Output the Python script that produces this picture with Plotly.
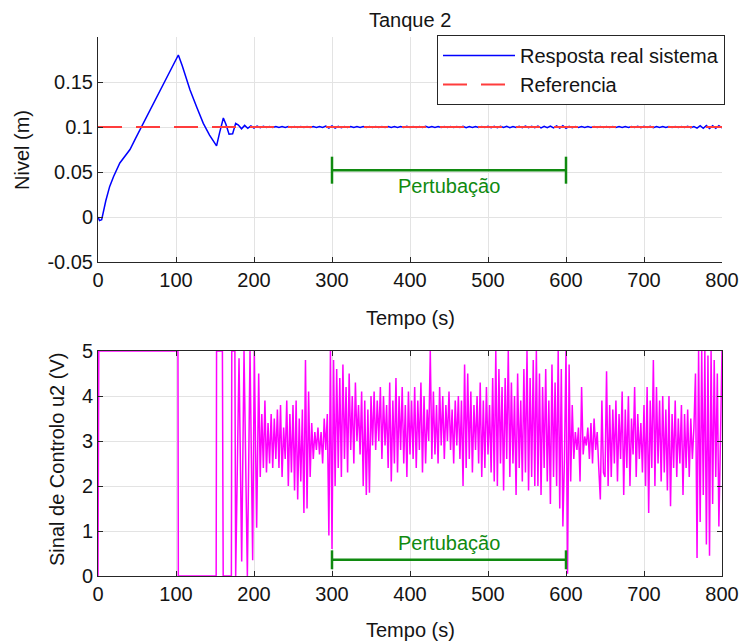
import numpy as np
import plotly.graph_objects as go

# ---------------- data ----------------
# Top plot: tank level response (early transient, explicit times)
t_lvl_early = [0, 2, 4.7, 7, 10, 15, 20, 28, 35, 41, 48, 54, 62, 70, 78, 86, 94, 103,
               108, 118, 127, 135, 143, 152, 156, 160.7, 164, 168, 172.6, 176.5]
lvl_early = [0.0, -0.004, -0.003, 0.008, 0.018, 0.034, 0.045, 0.060, 0.068, 0.075,
             0.087, 0.097, 0.110, 0.124, 0.137, 0.151, 0.165, 0.180,
             0.168, 0.141, 0.121, 0.104, 0.091, 0.079, 0.094, 0.110, 0.103, 0.092, 0.0925, 0.104]
# Level after settling, sampled every 4 s from 180 s to 800 s
lvl_late = [
    0.1022, 0.0980, 0.1018, 0.0985, 0.1013, 0.0989, 0.1009, 0.0992, 0.1007, 0.0994,
    0.1005, 0.0996, 0.1006, 0.0995, 0.1004, 0.0996, 0.1005, 0.0995, 0.1006, 0.0996,
    0.1005, 0.0995, 0.1006, 0.0995, 0.1004, 0.0996, 0.1005, 0.0995, 0.1010, 0.0989,
    0.1012, 0.0988, 0.1008, 0.0993, 0.1005, 0.0996, 0.1006, 0.0995, 0.1004, 0.0996,
    0.1005, 0.0995, 0.1006, 0.0996, 0.1004, 0.0995, 0.1005, 0.0996, 0.1006, 0.0995,
    0.1004, 0.0996, 0.1005, 0.0995, 0.1007, 0.0994, 0.1005, 0.0996, 0.1004, 0.0996,
    0.1007, 0.0994, 0.1005, 0.0996, 0.1006, 0.0995, 0.1004, 0.0996, 0.1006, 0.0994,
    0.1006, 0.0994, 0.1007, 0.0993, 0.1005, 0.0995, 0.1006, 0.0995, 0.1005, 0.0994,
    0.1007, 0.0993, 0.1008, 0.0992, 0.1007, 0.0994, 0.1008, 0.0993, 0.1006, 0.0994,
    0.1007, 0.0993, 0.1009, 0.0992, 0.1008, 0.0993, 0.1009, 0.0991, 0.1008, 0.0992,
    0.1010, 0.0990, 0.1012, 0.0988, 0.1014, 0.0986, 0.1008, 0.0993, 0.1005, 0.0996,
    0.1004, 0.0996, 0.1004, 0.0996, 0.1005, 0.0995, 0.1004, 0.0996, 0.1006, 0.0995,
    0.1005, 0.0996, 0.1004, 0.0995, 0.1006, 0.0994, 0.1005, 0.0996, 0.1007, 0.0993,
    0.1007, 0.0994, 0.1008, 0.0993, 0.1005, 0.0995, 0.1006, 0.0994, 0.1005, 0.0996,
    0.1005, 0.0995, 0.1006, 0.0994, 0.1007, 0.0993, 0.1006, 0.0988, 0.1014, 0.0985,
    0.1016, 0.0984, 0.1015, 0.0986, 0.1014, 0.0989,
]
t_lvl_late = list(np.arange(180, 801, 4))

t_ref = [0, 800]
ref = [0.1, 0.1]

# Bottom plot: control signal u2 (saturated early part, explicit times)
t_u_early = [0, 1, 102.5, 103, 151.5, 152, 159.5, 160.5, 171, 171.5, 175.5, 176.5,
             180.8, 184.2, 187.2, 191.5, 194.9, 198.3, 200.4, 203.4]
u_early = [0, 5, 5, 0, 0, 5, 5, 0, 0, 5, 5, 0, 4.84, 0.32, 5, 0, 5, 0.35, 5, 1.07]
# u2 sampled every 2 s from 206 s to 800 s
u_late = [
    4.5, 2.2, 3.6, 2.4, 3.9, 2.3, 3.4, 2.5, 3.6, 2.4,
    3.5, 2.6, 3.7, 2.4, 3.8, 2.2, 3.3, 2.6, 3.9, 2.0,
    3.6, 2.3, 3.8, 1.9, 3.9, 1.7, 3.5, 2.1, 3.7, 1.4,
    4.8, 1.5, 4.1, 2.2, 3.4, 2.6, 3.2, 2.8, 3.3, 2.7,
    3.2, 2.5, 3.5, 2.8, 3.6, 0.9, 5.0, 0.6, 4.8, 2.0,
    4.6, 2.4, 4.4, 2.2, 4.7, 2.6, 4.2, 2.3, 4.5, 2.8,
    4.0, 2.5, 4.3, 3.0, 3.8, 2.7, 4.1, 2.0, 3.9, 1.8,
    3.7, 1.85, 4.0, 2.9, 4.1, 2.8, 3.9, 3.0, 4.2, 2.6,
    4.0, 2.9, 3.8, 2.4, 4.3, 2.1, 3.9, 2.5, 4.4, 2.3,
    4.0, 2.8, 4.2, 2.5, 3.8, 2.2, 4.1, 2.7, 3.9, 2.6,
    4.2, 2.4, 3.9, 2.8, 4.3, 2.3, 4.0, 2.5, 3.7, 3.0,
    5.0, 2.6, 4.1, 2.7, 3.8, 2.5, 4.2, 2.9, 4.0, 2.6,
    3.8, 3.0, 4.1, 2.8, 3.7, 2.5, 3.9, 2.9, 4.0, 2.6,
    3.9, 2.0, 4.7, 2.4, 4.5, 2.6, 4.1, 2.3, 3.8, 2.8,
    4.0, 2.5, 4.3, 2.2, 3.9, 2.4, 4.2, 2.7, 3.8, 2.3,
    4.4, 2.1, 5.0, 2.0, 4.6, 2.5, 4.2, 1.9, 4.4, 2.6,
    5.0, 2.2, 4.3, 2.5, 4.0, 1.8, 4.5, 2.4, 3.9, 2.1,
    4.6, 2.3, 5.0, 1.9, 4.4, 2.2, 4.8, 2.0, 5.0, 2.0,
    4.5, 1.8, 4.2, 2.4, 4.6, 2.1, 3.9, 1.6, 4.7, 2.2,
    4.3, 2.0, 5.0, 1.5, 4.6, 1.1, 2.6, 5.0, 0.05, 4.7,
    2.1, 3.8, 2.6, 3.2, 2.8, 3.3, 2.1, 4.2, 2.7, 3.1,
    2.9, 3.3, 2.6, 3.4, 2.5, 3.5, 2.8, 3.2, 2.4, 1.7,
    3.9, 2.3, 2.2, 4.55, 2.0, 3.8, 2.2, 3.7, 2.5, 3.9,
    2.1, 3.6, 2.6, 4.1, 1.8, 3.7, 2.4, 4.0, 2.0, 3.5,
    2.7, 4.2, 2.2, 3.6, 2.6, 3.4, 2.3, 3.8, 2.0, 4.2,
    1.4, 3.9, 2.4, 4.8, 2.0, 4.2, 2.5, 3.9, 2.1, 4.0,
    2.3, 3.7, 1.9, 4.0, 1.55, 3.6, 2.4, 3.9, 2.2, 3.5,
    2.5, 3.8, 1.8, 3.6, 2.4, 3.7, 2.2, 3.5, 2.6, 3.3,
    4.5, 0.4, 5.0, 1.2, 5.0, 1.8, 5.0, 0.7, 4.9, 0.45,
    5.0, 1.6, 4.8, 2.2, 4.5, 1.1, 3.0, 5.0,
]
t_u_late = list(np.arange(206, 801, 2))
assert len(u_late) == len(t_u_late)
assert len(lvl_late) == len(t_lvl_late)

# Disturbance window annotation
pert_label = "Pertubação"
pert_start, pert_end = 300, 600
pert_y_top, pert_cap_top = 0.052, 0.015
pert_y_bot, pert_cap_bot = 0.36, 0.21

x_ticks = [0, 100, 200, 300, 400, 500, 600, 700, 800]
y1_ticks = [-0.05, 0, 0.05, 0.1, 0.15]
y1_ticklabels = ["-0.05", "0", "0.05", "0.1", "0.15"]
y2_ticks = [0, 1, 2, 3, 4, 5]

# ---------------- figure ----------------
W, H = 742, 643
FONT = "Liberation Sans, Arial, Helvetica, sans-serif"
GREEN = "#108a10"
AXC = "#262626"
GRID = "#e3e3e3"
TXT = "#141414"
FS = 20

fig = go.Figure()

fig.add_trace(go.Scatter(x=t_lvl_early + t_lvl_late, y=lvl_early + lvl_late,
                         mode="lines", line=dict(color="#0000ff", width=1.5),
                         name="Resposta real sistema", xaxis="x", yaxis="y"))
fig.add_trace(go.Scatter(x=t_ref, y=ref, mode="lines",
                         line=dict(color="#ff3c3c", width=2, dash="24px,14px"),
                         name="Referencia", xaxis="x", yaxis="y"))
fig.add_trace(go.Scatter(x=t_u_early + t_u_late, y=u_early + u_late, mode="lines",
                         line=dict(color="#ff00ff", width=1.5),
                         showlegend=False, xaxis="x2", yaxis="y2"))

# disturbance brackets
for xa, ya, yl, cap in [("x", "y", pert_y_top, pert_cap_top), ("x2", "y2", pert_y_bot, pert_cap_bot)]:
    fig.add_trace(go.Scatter(
        x=[pert_start, pert_start, None, pert_start, pert_end, None, pert_end, pert_end],
        y=[yl - cap, yl + cap, None, yl, yl, None, yl - cap, yl + cap],
        mode="lines", line=dict(color=GREEN, width=2.5), showlegend=False,
        xaxis=xa, yaxis=ya, hoverinfo="skip"))

xd = [98 / W, 722 / W]
tickfont = dict(family=FONT, size=FS, color=TXT)
common_x = dict(range=[0, 800], tickvals=x_ticks, showgrid=True, gridcolor=GRID,
                gridwidth=1, ticks="inside", ticklen=5, tickcolor=AXC,
                showline=True, linecolor=AXC, linewidth=1, zeroline=False,
                automargin=False, tickfont=tickfont, domain=xd)
fig.update_layout(
    template="none",
    width=W, height=H, margin=dict(l=0, r=0, t=0, b=0, pad=0), autosize=False,
    paper_bgcolor="white", plot_bgcolor="white",
    font=dict(family=FONT, size=FS, color=TXT),
    xaxis=dict(**common_x, anchor="y"),
    yaxis=dict(range=[-0.05, 0.2], tickvals=y1_ticks, ticktext=y1_ticklabels,
               domain=[1 - 262 / H, 1 - 37 / H], showgrid=True, gridcolor=GRID,
               ticks="inside", ticklen=5, tickcolor=AXC, showline=True,
               linecolor=AXC, linewidth=1, zeroline=False, anchor="x",
               automargin=False, tickfont=tickfont),
    xaxis2=dict(**common_x, anchor="y2", mirror="ticks"),
    yaxis2=dict(range=[0, 5], tickvals=y2_ticks,
                domain=[1 - 576 / H, 1 - 351 / H], showgrid=True, gridcolor=GRID,
                ticks="inside", ticklen=5, tickcolor=AXC, showline=True,
                linecolor=AXC, linewidth=1, zeroline=False, anchor="x2",
                mirror="ticks", automargin=False, tickfont=tickfont),
    legend=dict(x=725 / W, y=1 - 35 / H, xanchor="right", yanchor="top",
                bgcolor="white", bordercolor="#262626", borderwidth=1,
                font=dict(family=FONT, size=FS, color=TXT),
                itemwidth=72, tracegroupgap=0),
    showlegend=True,
)

ann = []
ann.append(dict(text="Tanque 2", x=410 / W, y=1 - 20 / H, xref="paper", yref="paper",
                showarrow=False, font=dict(family=FONT, size=FS, color=TXT),
                xanchor="center", yanchor="middle"))
ann.append(dict(text="Tempo (s)", x=410 / W, y=1 - 318 / H, xref="paper", yref="paper",
                showarrow=False, font=dict(family=FONT, size=FS), xanchor="center", yanchor="middle"))
ann.append(dict(text="Tempo (s)", x=410 / W, y=1 - 630 / H, xref="paper", yref="paper",
                showarrow=False, font=dict(family=FONT, size=FS), xanchor="center", yanchor="middle"))
ann.append(dict(text="Nivel (m)", x=22 / W, y=1 - 150 / H, xref="paper", yref="paper",
                showarrow=False, textangle=-90, font=dict(family=FONT, size=FS),
                xanchor="center", yanchor="middle"))
ann.append(dict(text="Sinal de Controlo u2 (V)", x=57 / W, y=1 - 460 / H, xref="paper", yref="paper",
                showarrow=False, textangle=-90, font=dict(family=FONT, size=FS),
                xanchor="center", yanchor="middle"))
ann.append(dict(text=pert_label, x=(pert_start + pert_end) / 2, y=0.035, xref="x", yref="y",
                showarrow=False, font=dict(family=FONT, size=FS, color=GREEN),
                xanchor="center", yanchor="middle"))
ann.append(dict(text=pert_label, x=(pert_start + pert_end) / 2, y=0.73, xref="x2", yref="y2",
                showarrow=False, font=dict(family=FONT, size=FS, color=GREEN),
                xanchor="center", yanchor="middle"))
fig.update_layout(annotations=ann)

fig.write_html("out.html")
